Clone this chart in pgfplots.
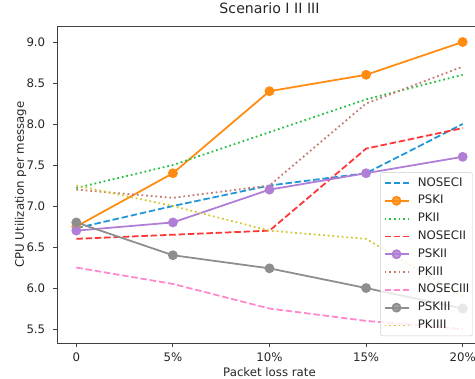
\documentclass[border=0pt]{standalone}
\usepackage{fontspec}
\setmainfont{DejaVu Sans}
\usepackage{pgfplots}
\pgfplotsset{compat=1.18}
\definecolor{cA}{HTML}{1F96D6}
\definecolor{cB}{HTML}{FF8C10}
\definecolor{cC}{HTML}{22C040}
\definecolor{cD}{HTML}{FF3535}
\definecolor{cE}{HTML}{B07ED6}
\definecolor{cF}{HTML}{C47A6E}
\definecolor{cG}{HTML}{FF88CC}
\definecolor{cH}{HTML}{8E8E8E}
\definecolor{cI}{HTML}{D4C630}
\begin{document}
\begin{tikzpicture}
\begin{axis}[
  at={(0,0)}, anchor=south west,
  scale only axis, width=425bp, height=317bp,
  xmin=-0.2, xmax=4.2, ymin=5.33, ymax=9.195,
  axis line style={black!75, line width=0.95bp},
  tick align=outside, tick pos=left,
  major tick length=4.1bp,
  tick style={black!75, line width=0.95bp},
  xtick={0,1,2,3,4}, xticklabels={0,5\%,10\%,15\%,20\%},
  ytick={5.5,6,6.5,7,7.5,8,8.5,9},
  yticklabel style={/pgf/number format/fixed, /pgf/number format/fixed zerofill, /pgf/number format/precision=1},
  /pgf/number format/assume math mode=true,
  ticklabel style={font=\fontsize{11.8}{14}\selectfont, text=black!85, inner sep=0pt},
  xticklabel style={anchor=north, yshift=-5.9bp},
  yticklabel style={anchor=east, xshift=-7.5bp},
  title={Scenario I II III},
  title style={at={([yshift=6.7bp]axis description cs:0.5,1)}, anchor=base, inner sep=0pt, font=\fontsize{14.2}{16}\selectfont, text=black!85},
  xlabel={Packet loss rate},
  xlabel style={at={([yshift=-33bp]axis description cs:0.5,0)}, anchor=base, inner sep=0pt, font=\fontsize{11.8}{14}\selectfont, text=black!85},
  ylabel={CPU Utilization per message},
  ylabel style={at={([xshift=-30.5bp]axis description cs:0,0.5)}, anchor=south, inner sep=0pt, font=\fontsize{11.8}{14}\selectfont, text=black!85},
  every axis plot/.append style={line width=1.77bp},
  dsh/.style={dash pattern=on 6.5bp off 2.8bp},
  dtt/.style={dash pattern=on 1.77bp off 2.9bp},
  mk/.style={mark=*, mark size=4bp, mark options={solid, draw=none}},
  legend image code/.code={\draw[mark repeat=2,mark phase=2] plot coordinates {(0bp,0bp)(12bp,0bp)(24bp,0bp)};},
  legend cell align=left,
  legend style={at={(0.978,0.022)}, anchor=south east, draw=black!20, rounded corners=2bp,
    fill=white, fill opacity=0.8, text opacity=1, inner xsep=3bp, inner ysep=1.5bp,
    font=\fontsize{11.8}{14}\selectfont, text=black!85,
    nodes={inner xsep=0pt, inner ysep=3.2bp, text height=8.8bp, text depth=2.6bp},
    /tikz/every odd column/.append style={column sep=8.5bp}},
]
\addplot[cA, dsh] coordinates {(0,6.73) (1,7.0) (2,7.25) (3,7.4) (4,8.0)};
\addlegendentry{NOSECI}
\addplot[cB, mk] coordinates {(0,6.75) (1,7.4) (2,8.4) (3,8.6) (4,9.0)};
\addlegendentry{PSKI}
\addplot[cC, dtt] coordinates {(0,7.22) (1,7.5) (2,7.9) (3,8.3) (4,8.6)};
\addlegendentry{PKII}
\addplot[cD, dsh] coordinates {(0,6.6) (1,6.65) (2,6.7) (3,7.7) (4,7.95)};
\addlegendentry{NOSECII}
\addplot[cE, mk] coordinates {(0,6.7) (1,6.8) (2,7.2) (3,7.4) (4,7.6)};
\addlegendentry{PSKII}
\addplot[cF, dtt] coordinates {(0,7.2) (1,7.1) (2,7.25) (3,8.25) (4,8.7)};
\addlegendentry{PKIII}
\addplot[cG, dsh] coordinates {(0,6.25) (1,6.05) (2,5.75) (3,5.6) (4,5.5)};
\addlegendentry{NOSECIII}
\addplot[cH, mk] coordinates {(0,6.8) (1,6.4) (2,6.24) (3,6.0) (4,5.75)};
\addlegendentry{PSKIII}
\addplot[cI, dtt] coordinates {(0,7.25) (1,7.0) (2,6.7) (3,6.6) (4,5.9)};
\addlegendentry{PKIIII}
\end{axis}
\pgfresetboundingbox
\useasboundingbox (-57bp,-36bp) rectangle (418bp,343bp);
\end{tikzpicture}
\end{document}
